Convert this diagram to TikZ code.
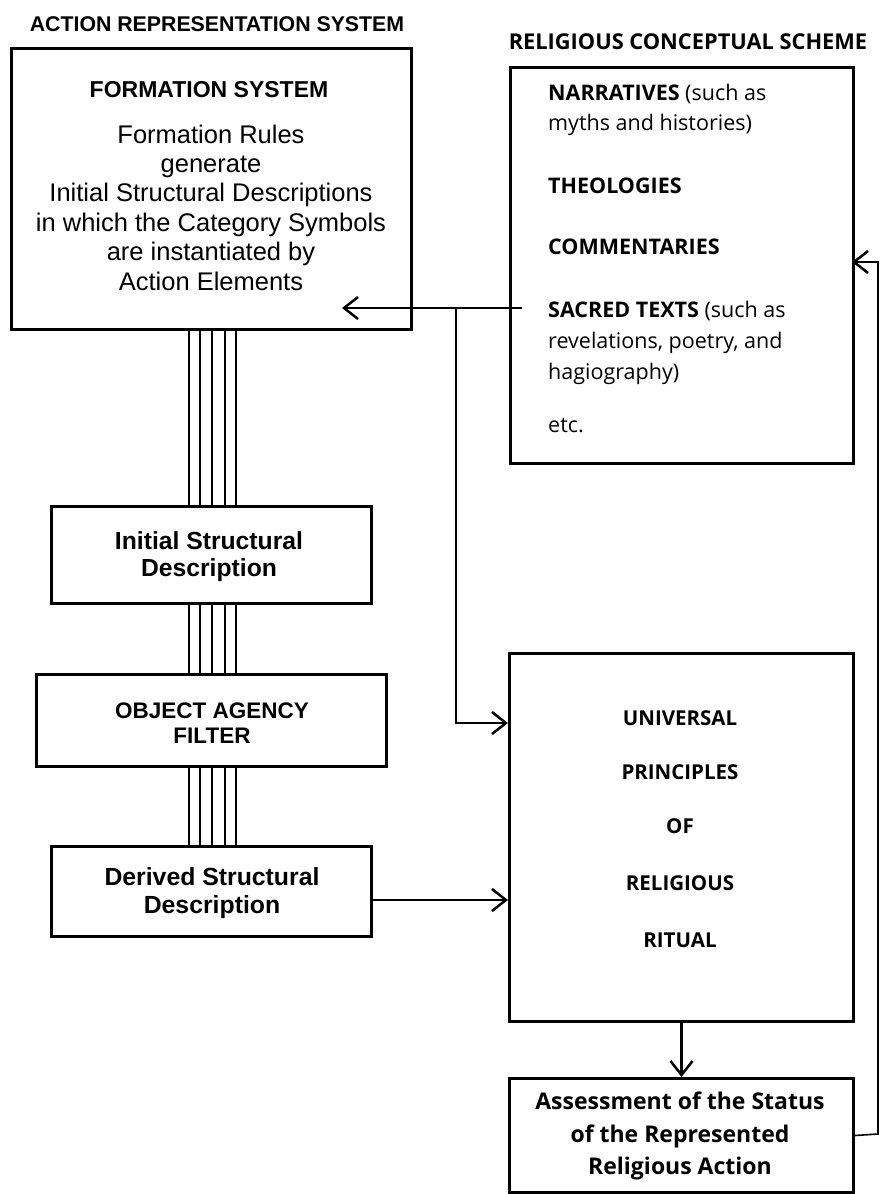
\documentclass[tikz,border=0pt]{standalone}
\usepackage{fontspec}
\setmainfont{Liberation Sans}
\newfontfamily\osans{Open Sans}
\usetikzlibrary{arrows.meta}
\newcommand\fsz[1]{\fontsize{#1}{#1}\selectfont}
\begin{document}
\begin{tikzpicture}[x=1pt,y=-1pt,
  box/.style={draw, line width=3pt, inner sep=0pt, anchor=north west},
  conn/.style={line width=2.5pt},
  arr/.style={conn, -{Straight Barb[length=14pt,width=22pt,line width=2.5pt]}},
  thinarr/.style={line width=1.6pt, -{Straight Barb[length=14pt,width=22pt,line width=2.5pt]}},
  vline/.style={line width=2pt},
  txt/.style={inner sep=0pt, anchor=base},
  ltxt/.style={inner sep=0pt, anchor=base west, font=\osans\fsz{21.5}},
  fbody/.style={txt, font=\fsz{25.5}},
  upr/.style={txt, font=\osans\bfseries\fsz{20.5}},
  asr/.style={txt, font=\osans\bfseries\fsz{23}},
]
\useasboundingbox (0,0) rectangle (880,1194);

% titles
\node[txt, font=\bfseries\fsz{21.3}] (t1) at (217,31) {ACTION REPRESENTATION SYSTEM};
\node[txt, font=\osans\bfseries\fsz{21.8}] (t2) at (688,49) {RELIGIOUS CONCEPTUAL SCHEME};

% boxes
\node[box, minimum width=400pt, minimum height=281pt] (form) at (10,47) {};
\node[box, minimum width=343pt, minimum height=396pt] (rcs) at (509,66) {};
\node[box, minimum width=320pt, minimum height=97pt] (isd) at (50,505) {};
\node[box, minimum width=350pt, minimum height=92pt] (oaf) at (35,673) {};
\node[box, minimum width=320pt, minimum height=90pt] (dsd) at (50,845) {};
\node[box, minimum width=344pt, minimum height=368pt] (uprr) at (508,652) {};
\node[box, minimum width=344pt, minimum height=114pt] (asm) at (508,1077) {};

% formation text
\node[txt, font=\bfseries\fsz{23}] (fst) at (209,97) {FORMATION SYSTEM};
\foreach \t/\y [count=\i] in {Formation Rules/143, generate/172.4, Initial Structural Descriptions/201.8, in which the Category Symbols/231.2, are instantiated by/260.6, Action Elements/290}
  \node[fbody] (fb\i) at (211,\y) {\t};

% left column texts
\node[txt, font=\bfseries\fsz{24.7}] (isd1) at (209,549) {Initial Structural};
\node[txt, font=\bfseries\fsz{24.7}] (isd2) at (209,576) {Description};
\node[txt, font=\bfseries\fsz{22.5}] (oaf1) at (212,718) {OBJECT AGENCY};
\node[txt, font=\bfseries\fsz{22.5}] (oaf2) at (212,743) {FILTER};
\node[txt, font=\bfseries\fsz{24.8}] (dsd1) at (212,885) {Derived Structural};
\node[txt, font=\bfseries\fsz{24.8}] (dsd2) at (212,913) {Description};

% religious conceptual scheme texts
\node[ltxt] (r1) at (548,100) {\textbf{NARRATIVES} (such as};
\node[ltxt] (r2) at (548,130) {myths and histories)};
\node[ltxt] (r3) at (548,193) {\textbf{THEOLOGIES}};
\node[ltxt] (r4) at (548,254) {\textbf{COMMENTARIES}};
\node[ltxt] (r5) at (548,317) {\textbf{SACRED TEXTS} (such as};
\node[ltxt] (r6) at (548,348) {revelations, poetry, and};
\node[ltxt] (r7) at (548,379) {hagiography)};
\node[ltxt] (r8) at (548,432) {etc.};

% universal principles
\node[upr] (u1) at (680,725) {UNIVERSAL};
\node[upr] (u2) at (680,779) {PRINCIPLES};
\node[upr] (u3) at (680,833) {OF};
\node[upr] (u4) at (680,890) {RELIGIOUS};
\node[upr] (u5) at (680,947) {RITUAL};

% assessment
\node[asr] (a1) at (680,1109) {Assessment of the Status};
\node[asr] (a2) at (680,1142) {of the Represented};
\node[asr] (a3) at (680,1174) {Religious Action};

% multi-line links
\foreach \dx in {-23,-12,0,13,24} {
  \draw[vline] ([xshift=\dx pt]form.south) -- ([xshift=\dx pt]form.south |- isd.north);
  \draw[vline] ([xshift=\dx pt]form.south |- isd.south) -- ([xshift=\dx pt]form.south |- oaf.north);
  \draw[vline] ([xshift=\dx pt]form.south |- oaf.south) -- ([xshift=\dx pt]form.south |- dsd.north);
}

% connectors
\coordinate (s0) at (522,308);
\coordinate (fa) at (342,308);
\coordinate (j) at (456,308);
\coordinate (ua) at (508,723);
\draw[arr] (s0) -- (fa);
\draw[arr] (j) |- (ua);
\coordinate (d1) at (372,900);
\draw[arr] (d1) -- (d1 -| uprr.west);
\draw[arr] (uprr.south) -- (asm.north);
\coordinate (fb) at (878,1134);
\coordinate (rb) at (852,262);
\draw[thinarr] (asm.east) -- (fb) |- (rb);
\end{tikzpicture}
\end{document}
